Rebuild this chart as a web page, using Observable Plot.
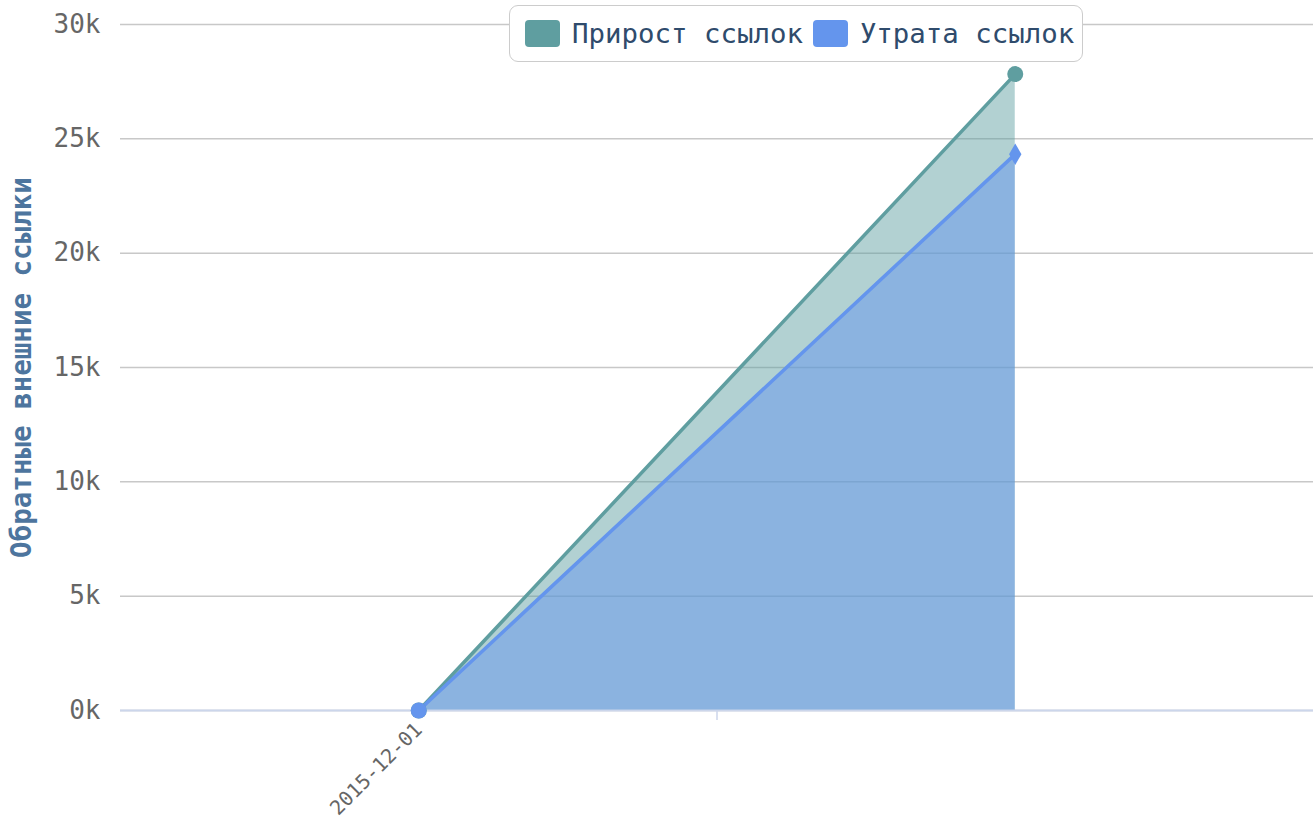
<!DOCTYPE html>
<html>
<head>
<meta charset="utf-8">
<script src="https://cdn.jsdelivr.net/npm/d3@7"></script>
<script src="https://cdn.jsdelivr.net/npm/@observablehq/plot@0.6"></script>
<style>
  html, body { margin: 0; padding: 0; background: #fff; }
  #wrap { position: relative; width: 1315px; height: 820px; font-family: "DejaVu Sans Mono", monospace; }
  #legend { position: absolute; left: 509px; top: 5px; height: 57px; box-sizing: border-box; padding: 0 8px 0 15px;
    border: 1.5px solid #cccccc; border-radius: 9px; background: #fff; display: flex; align-items: center;
    font-size: 27.4px; color: #2f4b6c; white-space: pre; }
  .item { display: flex; align-items: center; }
  .sw { width: 35px; height: 27px; border-radius: 4px; margin-right: 12px; }
  .item + .item { margin-left: 10px; }
</style>
</head>
<body>
<div id="wrap"><div id="legend"></div></div>
<script>
const categories = ["2015-12-01", ""];
const seriesNames = ["Прирост ссылок", "Утрата ссылок"];
const seriesColors = ["#5f9ea0", "#6495ed"];
const growthValues = [0, 27830];
const lossValues = [0, 24330];
const yTicks = [0, 5000, 10000, 15000, 20000, 25000, 30000];
const yLabel = "Обратные внешние ссылки";

const growth = categories.map((c, i) => ({i, value: growthValues[i]}));
const loss = categories.map((c, i) => ({i, value: lossValues[i]}));
const boundaries = d3.range(categories.length - 1).map(i => i + 0.5);

const chart = Plot.plot({
  width: 1315,
  height: 820,
  marginLeft: 120,
  marginRight: 2,
  marginTop: 24,
  marginBottom: 110,
  style: {fontFamily: "DejaVu Sans Mono, monospace", background: "#fff"},
  x: {type: "linear", domain: [-0.5, categories.length - 0.5], axis: null},
  y: {domain: [0, 30000], axis: null},
  marks: [
    Plot.gridY({ticks: yTicks, stroke: "#c8c8c8", strokeOpacity: 1, strokeWidth: 1.5}),
    Plot.areaY(growth, {x: "i", y: "value", fill: seriesColors[0], fillOpacity: 0.48}),
    Plot.areaY(loss, {x: "i", y: "value", fill: seriesColors[1], fillOpacity: 0.5}),
    Plot.ruleY([0], {stroke: "#ccd6eb", strokeWidth: 2}),
    Plot.axisX({ticks: boundaries, tickFormat: () => "", tickSize: 10, stroke: "#ccd6eb", strokeWidth: 1.5, label: null}),
    Plot.lineY(growth, {x: "i", y: "value", stroke: seriesColors[0], strokeWidth: 3.5}),
    Plot.lineY(loss, {x: "i", y: "value", stroke: seriesColors[1], strokeWidth: 3.5}),
    Plot.dot(growth, {x: "i", y: "value", fill: seriesColors[0], r: 8, symbol: "circle"}),
    Plot.dot(loss, {x: "i", y: "value", fill: seriesColors[1], r: 8, symbol: "circle", filter: (d, i) => i === 0}),
    Plot.dot(loss, {x: "i", y: "value", fill: seriesColors[1], r: 6.5, symbol: "diamond", filter: (d, i) => i > 0}),
    Plot.axisY({ticks: yTicks, tickFormat: d => (d / 1000) + "k", tickSize: 0, tickPadding: 20,
      fontSize: 26, fill: "#666666", label: null}),
    Plot.axisX({ticks: d3.range(categories.length), tickFormat: i => categories[i], tickSize: 0, tickPadding: 16,
      tickRotate: -45, fontSize: 20, fill: "#666666", label: null}),
    Plot.text([yLabel], {frameAnchor: "left", rotate: -90, dx: -98, textAnchor: "middle", text: d => d,
      fontSize: 27.5, fontWeight: "bold", fill: "#4d759e"})
  ]
});
document.getElementById("wrap").prepend(chart);

const legend = document.getElementById("legend");
seriesNames.forEach((name, k) => {
  const item = document.createElement("div");
  item.className = "item";
  const sw = document.createElement("div");
  sw.className = "sw";
  sw.style.background = seriesColors[k];
  const t = document.createElement("span");
  t.textContent = name;
  item.append(sw, t);
  legend.append(item);
});
</script>
</body>
</html>
